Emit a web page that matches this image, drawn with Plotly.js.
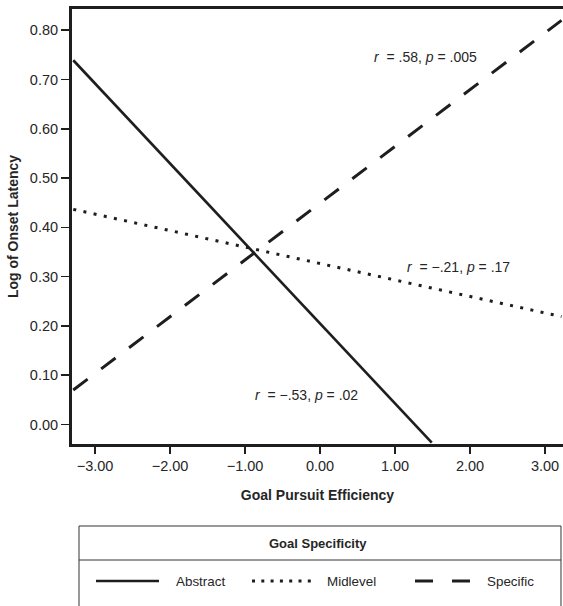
<!DOCTYPE html>
<html>
<head>
<meta charset="utf-8">
<script src="https://cdn.plot.ly/plotly-3.0.1.min.js"></script>
<style>html,body{margin:0;padding:0;background:#fff;}#chart{width:563px;height:606px;}</style>
</head>
<body>
<div id="chart"></div>
<script>
// Data
const seriesNames = ["Abstract", "Midlevel", "Specific"];
const abstractX = [-3.29, 1.49];
const abstractY = [0.739, -0.037];
const midlevelX = [-3.29, 3.22];
const midlevelY = [0.4365, 0.219];
const specificX = [-3.29, 3.22];
const specificY = [0.07, 0.82];
const xTicks = [-3, -2, -1, 0, 1, 2, 3];
const yTicks = [0, 0.1, 0.2, 0.3, 0.4, 0.5, 0.6, 0.7, 0.8];
const statLabels = [
  {text: "<i>r</i>\u00a0 = .58, <i>p</i> = .005", x: 0.689, y: 0.745},
  {text: "<i>r</i>\u00a0 = \u2212.21, <i>p</i> = .17", x: 1.133, y: 0.32},
  {text: "<i>r</i>\u00a0 = \u2212.53, <i>p</i> = .02", x: -0.897, y: 0.06}
];

const FONT = "'Liberation Sans', Arial, Helvetica, sans-serif";
const INK = "#1e1e1e";
const TXT = "#262626";

const traces = [
  {x: abstractX, y: abstractY, name: seriesNames[0], mode: "lines",
   line: {color: INK, width: 2.6}, showlegend: false, hoverinfo: "skip"},
  {x: midlevelX, y: midlevelY, name: seriesNames[1], mode: "lines",
   line: {color: INK, width: 3, dash: "3px,7.4px"}, showlegend: false, hoverinfo: "skip"},
  {x: specificX, y: specificY, name: seriesNames[2], mode: "lines",
   line: {color: INK, width: 3, dash: "18px,17px"}, showlegend: false, hoverinfo: "skip"}
];

const annotations = statLabels.map(s => ({
  text: s.text, x: s.x, y: s.y, xref: "x", yref: "y",
  xanchor: "left", yanchor: "middle", showarrow: false,
  font: {family: FONT, size: 14, color: TXT}
}));

// custom legend box (paper coordinates)
annotations.push({text: "<b>Goal Specificity</b>", x: 0.501, y: -0.2276, xref: "paper", yref: "paper",
  xanchor: "center", yanchor: "middle", showarrow: false, font: {family: FONT, size: 13, color: TXT}});
const legendTextX = [0.2083, 0.5153, 0.8411];
seriesNames.forEach((n, i) => annotations.push({text: n, x: legendTextX[i], y: -0.315, xref: "paper", yref: "paper",
  xanchor: "left", yanchor: "middle", showarrow: false, font: {family: FONT, size: 13.4, color: TXT}}));

const shapes = [
  {type: "rect", xref: "paper", yref: "paper", x0: 0.01426, x1: 0.9959, y0: -0.42, y1: -0.1885,
   line: {color: "#333", width: 1}},
  {type: "line", xref: "paper", yref: "paper", x0: 0.01426, x1: 0.9959, y0: -0.2667, y1: -0.2667,
   line: {color: "#333", width: 1}},
  {type: "line", xref: "paper", yref: "paper", x0: 0.0489, x1: 0.1772, y0: -0.315, y1: -0.315,
   line: {color: INK, width: 2.6}},
  {type: "line", xref: "paper", yref: "paper", x0: 0.3666, x1: 0.499, y0: -0.315, y1: -0.315,
   line: {color: INK, width: 3, dash: "3px,6.3px"}},
  {type: "line", xref: "paper", yref: "paper", x0: 0.6986, x1: 0.8106, y0: -0.315, y1: -0.315,
   line: {color: INK, width: 3, dash: "18px,19px"}}
];

const layout = {
  width: 563, height: 606,
  margin: {l: 72, r: 0, t: 9, b: 162, pad: 0},
  paper_bgcolor: "#fff", plot_bgcolor: "#fff",
  showlegend: false,
  font: {family: FONT, color: TXT},
  xaxis: {
    range: [-3.307, 3.24], tickvals: xTicks, tickformat: ".2f",
    ticks: "outside", ticklen: 7, tickwidth: 1.5, tickcolor: INK,
    showline: true, linewidth: 3, linecolor: INK, mirror: true,
    showgrid: false, zeroline: false,
    tickfont: {family: FONT, size: 14.5, color: TXT},
    title: {text: "<b>Goal Pursuit Efficiency</b>", font: {family: FONT, size: 14, color: TXT}, standoff: 17},
    automargin: false
  },
  yaxis: {
    range: [-0.0396, 0.843], tickvals: yTicks, tickformat: ".2f",
    ticks: "outside", ticklen: 8, tickwidth: 1.5, tickcolor: INK,
    showline: true, linewidth: 3, linecolor: INK, mirror: false,
    showgrid: false, zeroline: false,
    tickfont: {family: FONT, size: 14.5, color: TXT},
    title: {text: "<b>Log of Onset Latency</b>", font: {family: FONT, size: 14, color: TXT}, standoff: 8},
    automargin: false
  },
  annotations: annotations,
  shapes: shapes
};

Plotly.newPlot("chart", traces, layout, {staticPlot: true, displayModeBar: false});
</script>
</body>
</html>
